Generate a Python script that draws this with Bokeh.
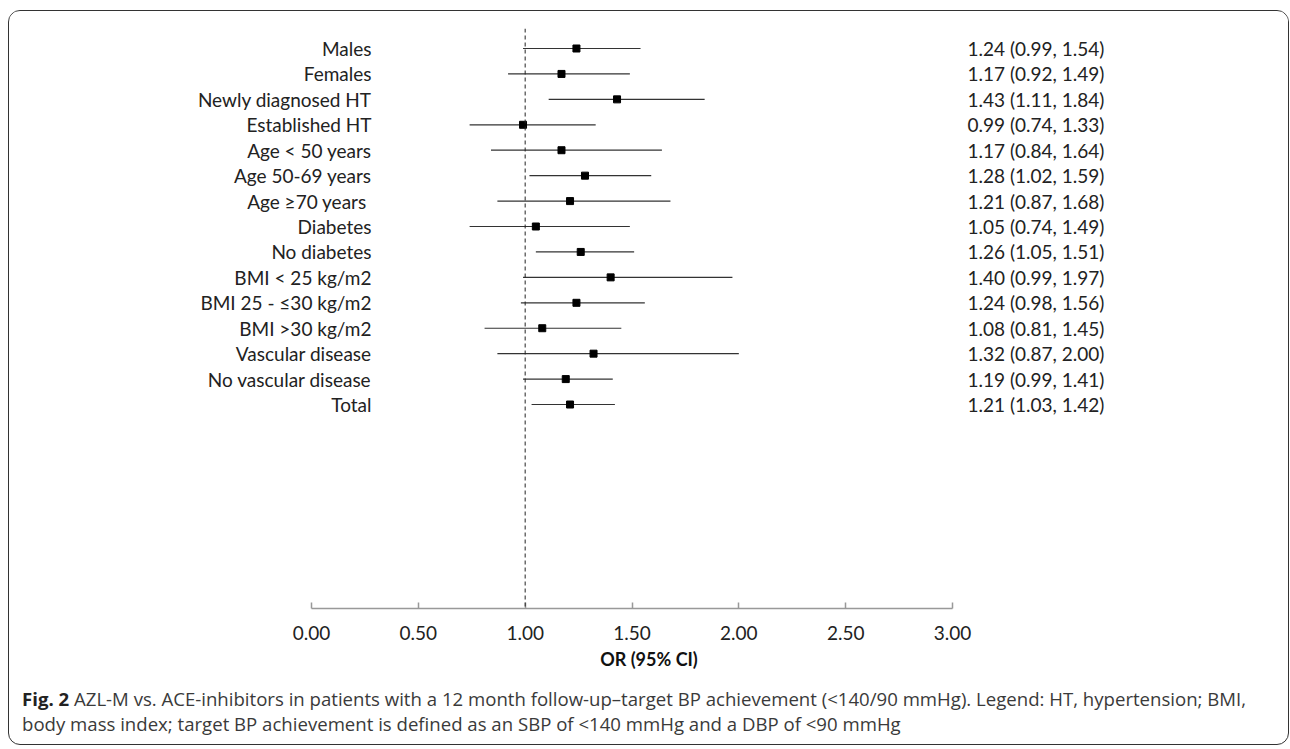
from bokeh.plotting import figure
from bokeh.models import Range1d, FixedTicker, NumeralTickFormatter, ColumnDataSource, Span, Div
from bokeh.layouts import column
from bokeh.core.properties import value
from bokeh.embed import file_html
from bokeh.resources import INLINE

# ---- data ----
subgroups = ["Males", "Females", "Newly diagnosed HT", "Established HT", "Age < 50 years",
             "Age 50-69 years", "Age  \u226570 years", "Diabetes", "No diabetes", "BMI < 25 kg/m2",
             "BMI 25 - \u226430 kg/m2", "BMI >30 kg/m2", "Vascular disease", "No vascular disease", "Total"]
odds_ratio = [1.24, 1.17, 1.43, 0.99, 1.17, 1.28, 1.21, 1.05, 1.26, 1.40, 1.24, 1.08, 1.32, 1.19, 1.21]
ci_low = [0.99, 0.92, 1.11, 0.74, 0.84, 1.02, 0.87, 0.74, 1.05, 0.99, 0.98, 0.81, 0.87, 0.99, 1.03]
ci_high = [1.54, 1.49, 1.84, 1.33, 1.64, 1.59, 1.68, 1.49, 1.51, 1.97, 1.56, 1.45, 2.00, 1.41, 1.42]
tick_values = [0.0, 0.5, 1.0, 1.5, 2.0, 2.5, 3.0]
reference_or = 1.0
axis_label = "OR (95% CI)"
caption_bold = "Fig. 2"
caption_text = ("AZL-M vs. ACE-inhibitors in patients with a 12 month follow-up\u2013target BP achievement "
                "(&lt;140/90 mmHg). Legend: HT, hypertension; BMI,<br>body mass index; target BP achievement "
                "is defined as an SBP of &lt;140 mmHg and a DBP of &lt;90 mmHg")

rows = list(range(len(subgroups)))
ci_text = [f"{o:.2f} ({l:.2f}, {h:.2f})" for o, l, h in zip(odds_ratio, ci_low, ci_high)]
src = ColumnDataSource(dict(row=rows, label=subgroups, orr=odds_ratio, lo=ci_low, hi=ci_high,
                            txt=ci_text, zero=[tick_values[0]] * len(rows),
                            last=[tick_values[-1]] * len(rows)))

FONT = "Lato"
W = 1279
scale = 641 / 3.0
x0_px = 302
p = figure(width=W, height=667, output_backend="svg", toolbar_location=None,
           x_range=Range1d(-x0_px / scale, (W - x0_px) / scale),
           y_range=Range1d(560 / 25.43, -20 / 25.43),
           y_axis_location=None, min_border_left=0, min_border_right=0,
           min_border_top=17, min_border_bottom=70, margin=0)
p.outline_line_color = None
p.grid.visible = False
p.background_fill_color = "white"
p.border_fill_color = "white"

# reference line
p.add_layout(Span(location=reference_or, dimension="height", line_color="#222",
                  line_dash="4 3", line_width=1))

# CI whiskers and points
p.segment(x0="lo", x1="hi", y0="row", y1="row", source=src, line_color="#333", line_width=1.2)
p.scatter(x="orr", y="row", source=src, marker="square", size=7, fill_color="black", line_color="black")

# labels
p.text(x="zero", y="row", text="label", source=src, x_offset=60, text_align="right",
       text_baseline="middle", text_font=value(FONT), text_font_size="19px", text_color="#222")
p.text(x="last", y="row", text="txt", source=src, x_offset=15, text_align="left",
       text_baseline="middle", text_font=value(FONT), text_font_size="19px", text_color="#222")

ax = p.xaxis[0]
ax.ticker = FixedTicker(ticks=tick_values)
ax.formatter = NumeralTickFormatter(format="0.00")
ax.bounds = (tick_values[0], tick_values[-1])
ax.axis_line_color = "#999999"
ax.axis_line_width = 1.5
ax.major_tick_line_color = "#999999"
ax.major_tick_line_width = 1.5
ax.major_tick_in = 6
ax.major_tick_out = 0
ax.minor_tick_line_color = None
ax.major_label_standoff = 17
ax.major_label_text_font = FONT
ax.major_label_text_font_size = "19px"
ax.major_label_text_color = "#222"
ax.axis_label = axis_label
ax.axis_label_text_font = FONT
ax.axis_label_text_font_size = "18px"
ax.axis_label_text_font_style = "bold"
ax.axis_label_text_color = "#111"
ax.axis_label_standoff = 5

cap = Div(text=(f'<div style="font-family: \'Open Sans\'; font-size: 18.6px; line-height: 25px; color: #3a3a3a; '
                f'padding: 8px 0 0 13px; white-space: nowrap;"><b style="color:#222">{caption_bold}</b> '
                f'{caption_text}</div>'), width=W, height=66, margin=0)

layout = column(p, cap, margin=0, styles={"border": "1px solid #333", "border-radius": "12px",
                                          "overflow": "hidden", "background": "white",
                                          "margin": "10px 0 0 8px"})

open("out.html", "w").write(file_html(layout, INLINE))
